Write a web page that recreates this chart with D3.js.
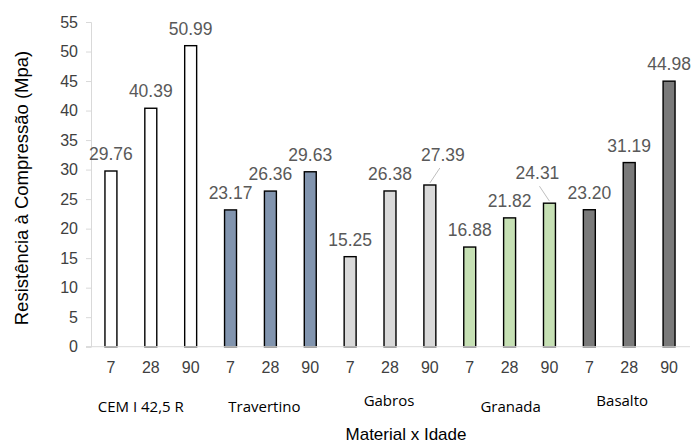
<!DOCTYPE html>
<html>
<head>
<meta charset="utf-8">
<script src="https://cdn.jsdelivr.net/npm/d3@7"></script>
<style>
  body { margin: 0; background: #fff; }
  svg { display: block; }
</style>
</head>
<body>
<svg id="chart" width="691" height="445"></svg>
<script>
// ---- data ----
const materials = ["CEM I 42,5 R", "Travertino", "Gabros", "Granada", "Basalto"];
const ages = ["7", "28", "90"];
const cemValues = [29.76, 40.39, 50.99];
const travertinoValues = [23.17, 26.36, 29.63];
const gabrosValues = [15.25, 26.38, 27.39];
const granadaValues = [16.88, 21.82, 24.31];
const basaltoValues = [23.20, 31.19, 44.98];
const yTicks = [0, 5, 10, 15, 20, 25, 30, 35, 40, 45, 50, 55];
const materialColors = ["#ffffff", "#8194ae", "#d9d9d9", "#c6e0b4", "#7a7a7a"];

const seriesValues = [cemValues, travertinoValues, gabrosValues, granadaValues, basaltoValues];
const rows = [];
materials.forEach((m, gi) => {
  ages.forEach((a, ai) => {
    rows.push({ material: m, age: a, gi, ai, value: seriesValues[gi][ai], key: gi * 3 + ai });
  });
});

// ---- layout ----
const svg = d3.select("#chart");
const plotLeft = 91, plotRight = 689, plotTop = 22, plotBottom = 346.7;

const x = d3.scaleBand()
  .domain(rows.map(d => d.key))
  .range([plotLeft, plotRight])
  .paddingInner(0.7)
  .paddingOuter(0.35);
const y = d3.scaleLinear().domain([0, 55]).range([plotBottom, plotTop]);

const axisColor = "#d9d9d9";
const tickText = "#404040";
const labelText = "#595959";

// y axis
const yAxis = svg.append("g")
  .attr("transform", `translate(${plotLeft},0)`)
  .call(d3.axisLeft(y).tickValues(yTicks).tickSize(5).tickPadding(8).tickFormat(d3.format("d")));
yAxis.select(".domain").attr("stroke", axisColor);
yAxis.selectAll(".tick line").attr("stroke", axisColor);
yAxis.selectAll(".tick text")
  .attr("fill", tickText)
  .style("font-family", "'Liberation Sans', Arial, sans-serif")
  .style("font-size", "16px");

// bars
svg.append("g").selectAll("rect")
  .data(rows)
  .join("rect")
  .attr("x", d => x(d.key))
  .attr("y", d => y(d.value))
  .attr("width", x.bandwidth())
  .attr("height", d => y(0) - y(d.value))
  .attr("fill", d => materialColors[d.gi])
  .attr("stroke", "#000")
  .attr("stroke-width", 1.4);

// x baseline
svg.append("line")
  .attr("x1", plotLeft - 5).attr("x2", plotRight + 1)
  .attr("y1", y(0)).attr("y2", y(0))
  .attr("stroke", axisColor).attr("stroke-width", 1);

// age tick labels
svg.append("g").selectAll("text")
  .data(rows)
  .join("text")
  .attr("x", d => x(d.key) + x.bandwidth() / 2)
  .attr("y", y(0) + 26)
  .attr("text-anchor", "middle")
  .attr("fill", tickText)
  .style("font-family", "'Liberation Sans', Arial, sans-serif")
  .style("font-size", "16px")
  .text(d => d.age);

// data labels (a couple are moved aside with leader lines, as in the original)
const labelShift = { 8: [13, -13], 11: [-12, -13] };
const lbl = svg.append("g");
rows.forEach(d => {
  const cx = x(d.key) + x.bandwidth() / 2;
  const topY = y(d.value);
  const s = labelShift[d.key] || [0, 0];
  lbl.append("text")
    .attr("x", cx + s[0])
    .attr("y", topY - 11 + s[1])
    .attr("text-anchor", "middle")
    .attr("fill", labelText)
    .style("font-family", "'Liberation Sans', Arial, sans-serif")
    .style("font-size", "17.5px")
    .text(d3.format(".2f")(d.value));
  if (labelShift[d.key]) {
    const dir = Math.sign(s[0]);
    lbl.append("line")
      .attr("x1", cx).attr("y1", topY - 2)
      .attr("x2", cx + dir * 10).attr("y2", topY - 17)
      .attr("stroke", "#bfbfbf").attr("stroke-width", 1);
  }
});

// material group labels
const groupOffset = [[-10, 406], [-6, 406], [-1, 400], [1, 406], [-7, 400]];
svg.append("g").selectAll("text")
  .data(materials)
  .join("text")
  .attr("x", (m, i) => x(i * 3 + 1) + x.bandwidth() / 2 + groupOffset[i][0])
  .attr("y", (m, i) => groupOffset[i][1] + 5.5)
  .attr("text-anchor", "middle")
  .attr("fill", "#000")
  .style("font-family", "'Open Sans', 'Noto Sans', sans-serif")
  .style("font-size", "15px")
  .text(m => m);

// axis titles
svg.append("text")
  .attr("x", 406).attr("y", 440)
  .attr("text-anchor", "middle")
  .attr("fill", "#000")
  .style("font-family", "'Liberation Sans', Arial, sans-serif")
  .style("font-size", "17px")
  .text("Material x Idade");

svg.append("text")
  .attr("transform", "translate(28,188) rotate(-90)")
  .attr("text-anchor", "middle")
  .attr("fill", "#000")
  .style("font-family", "'Liberation Sans', Arial, sans-serif")
  .style("font-size", "18.5px")
  .text("Resistência à Compressão (Mpa)");
</script>
</body>
</html>
